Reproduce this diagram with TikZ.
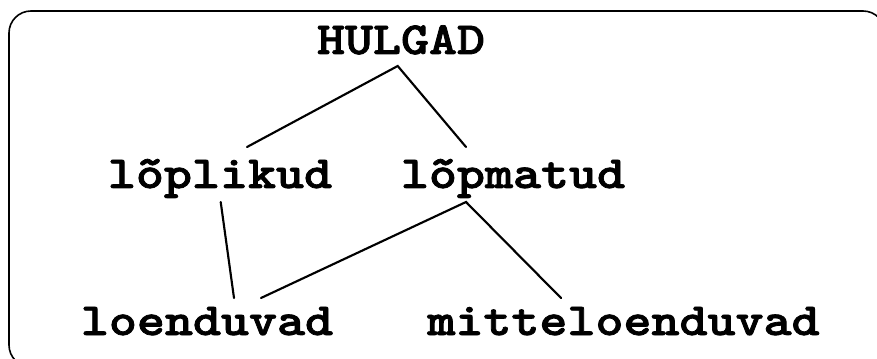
\documentclass[tikz,border=0pt]{standalone}
\usepackage{fontspec}
\usepackage{graphicx}
\usetikzlibrary{calc}

% heavy typewriter face for the words
\newfontfamily\wordfont{lmmonolt10-bold.otf}[FakeBold=1.6]

\tikzset{
  lbl/.style={anchor=base, inner sep=0pt, outer sep=0pt,
    font=\fontsize{34.5}{40}\selectfont\wordfont},
  link/.style={line width=1.6pt, line cap=round},
  frame/.style={line width=1.2pt, rounded corners=16.5pt}
}
\newcommand{\wide}[1]{\scalebox{1.16}[1]{#1}}

\begin{document}
\begin{tikzpicture}[x=0.75pt, y=-0.75pt]
  \useasboundingbox (0,0) rectangle (877,359);
  \begin{scope}
    \clip (0,0) rectangle (877,359);
    \draw[frame] (9,11) rectangle (885,367);
  \end{scope}

  % word nodes, placed by their baselines
  \node[lbl] (hulgad) at (401,54)   {\wide{HULGAD}};
  \node[lbl] (lopl)   at (220,188)  {\wide{lõplikud}};
  \node[lbl] (lopm)   at (513,188)  {\wide{lõpmatud}};
  \node[lbl] (loend)  at (207,335)  {\wide{loenduvad}};
  \node[lbl] (mitte)  at (623.5,335){\wide{mitteloenduvad}};

  % connectors between the words
  \draw[link] ($(lopl.base)+(27,-41)$) -- ($(hulgad.base)+(-3.3,12)$)
              -- ($(lopm.base)+(-47,-41)$);
  \draw[link] ($(lopl.base)+(0.7,14)$) -- ($(loend.base)+(27,-37)$);
  \draw[link] ($(loend.base)+(54,-37)$) -- ($(lopm.base)+(-47,14)$)
              -- ($(mitte.base)+(-62.5,-37)$);
\end{tikzpicture}
\end{document}
